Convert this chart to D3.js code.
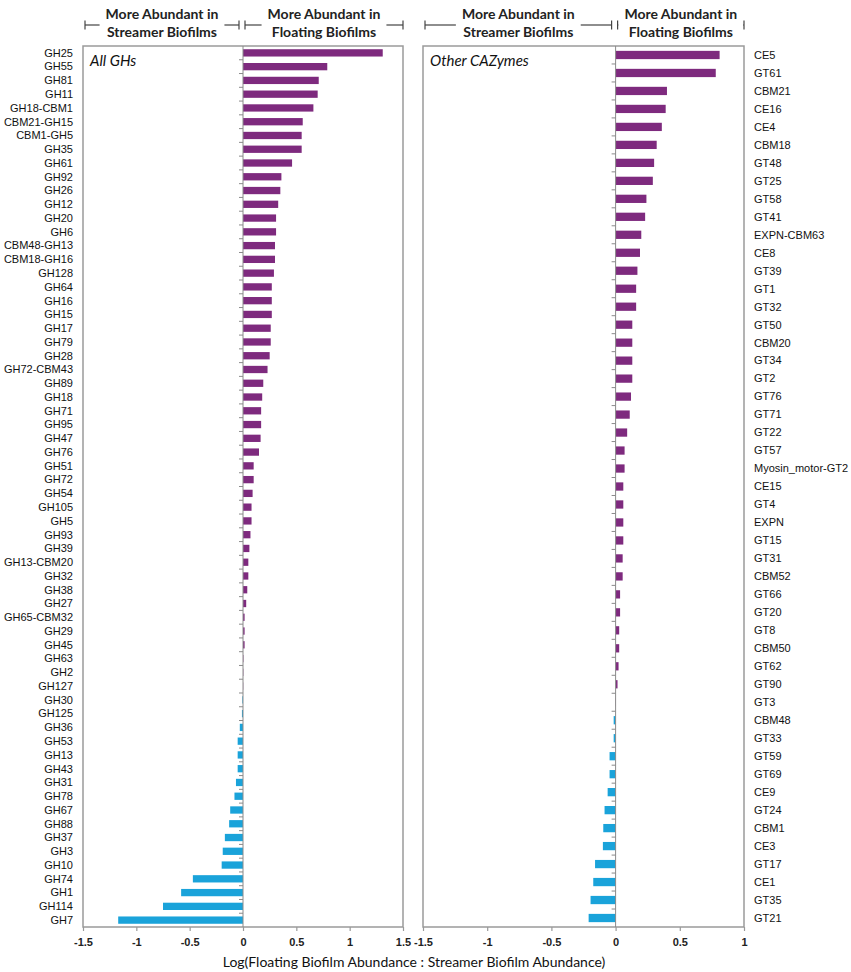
<!DOCTYPE html>
<html>
<head>
<meta charset="utf-8">
<script src="https://cdn.jsdelivr.net/npm/d3@7"></script>
<style>
  html, body { margin: 0; padding: 0; background: #fff; }
  svg { display: block; }
</style>
</head>
<body>
<svg id="chart" width="851" height="972"></svg>
<script>
// left panel: all GHs
const ghLabels = ["GH25","GH55","GH81","GH11","GH18-CBM1","CBM21-GH15","CBM1-GH5","GH35","GH61","GH92",
  "GH26","GH12","GH20","GH6","CBM48-GH13","CBM18-GH16","GH128","GH64","GH16","GH15",
  "GH17","GH79","GH28","GH72-CBM43","GH89","GH18","GH71","GH95","GH47","GH76",
  "GH51","GH72","GH54","GH105","GH5","GH93","GH39","GH13-CBM20","GH32","GH38",
  "GH27","GH65-CBM32","GH29","GH45","GH63","GH2","GH127","GH30","GH125","GH36",
  "GH53","GH13","GH43","GH31","GH78","GH67","GH88","GH37","GH3","GH10",
  "GH74","GH1","GH114","GH7"];
const ghValues = [1.31,0.79,0.71,0.70,0.66,0.56,0.55,0.55,0.46,0.36,
  0.35,0.33,0.31,0.31,0.30,0.30,0.29,0.27,0.27,0.27,
  0.26,0.26,0.25,0.23,0.19,0.18,0.17,0.17,0.165,0.15,
  0.10,0.10,0.09,0.08,0.08,0.07,0.06,0.05,0.05,0.04,
  0.03,0.015,0.015,0.015,0.004,0.003,0.002,-0.006,-0.01,-0.03,
  -0.05,-0.05,-0.05,-0.066,-0.08,-0.12,-0.13,-0.17,-0.19,-0.20,
  -0.47,-0.58,-0.75,-1.17];

// right panel: other CAZymes
const otherLabels = ["CE5","GT61","CBM21","CE16","CE4","CBM18","GT48","GT25","GT58","GT41",
  "EXPN-CBM63","CE8","GT39","GT1","GT32","GT50","CBM20","GT34","GT2","GT76",
  "GT71","GT22","GT57","Myosin_motor-GT2","CE15","GT4","EXPN","GT15","GT31","CBM52",
  "GT66","GT20","GT8","CBM50","GT62","GT90","GT3","CBM48","GT33","GT59",
  "GT69","CE9","GT24","CBM1","CE3","GT17","CE1","GT35","GT21"];
const otherValues = [0.81,0.78,0.40,0.39,0.36,0.32,0.30,0.29,0.24,0.23,
  0.20,0.19,0.17,0.16,0.16,0.13,0.13,0.13,0.13,0.12,
  0.11,0.09,0.07,0.07,0.06,0.06,0.06,0.06,0.055,0.055,
  0.035,0.035,0.028,0.028,0.023,0.015,0.002,-0.015,-0.015,-0.047,
  -0.047,-0.062,-0.086,-0.096,-0.099,-0.16,-0.174,-0.195,-0.21];

const ghTicks = [-1.5, -1, -0.5, 0, 0.5, 1, 1.5];
const otherTicks = [-1.5, -1, -0.5, 0, 0.5, 1];

const headerTop = "More Abundant in";
const headerStreamer = "Streamer Biofilms";
const headerFloating = "Floating Biofilms";
const axisTitle = "Log(Floating Biofilm Abundance : Streamer Biofilm Abundance)";

const PURPLE = "#7e2a7e";
const BLUE = "#1aa3da";
const GREY = "#9a9a9a";

const svg = d3.select("#chart");
const yTop = 46, yBottom = 927;

const panels = [
  { labels: ghLabels, values: ghValues, ticks: ghTicks, domain: [-1.5, 1.5],
    x0: 83, x1: 403, pad: 0.47, title: "All GHs", side: "left" },
  { labels: otherLabels, values: otherValues, ticks: otherTicks, domain: [-1.5, 1],
    x0: 423, x1: 744, pad: 0.54, title: "Other CAZymes", side: "right" }
];

panels.forEach(p => {
  const data = p.labels.map((l, i) => ({ label: l, value: p.values[i] }));

  const x = d3.scaleLinear().domain(p.domain).range([p.x0, p.x1]);
  const y = d3.scaleBand()
    .domain(p.labels)
    .range([yTop, yBottom])
    .paddingInner(p.pad)
    .paddingOuter(p.pad / 2);

  const g = svg.append("g");

  // frame
  g.append("rect")
    .attr("x", p.x0).attr("y", yTop)
    .attr("width", p.x1 - p.x0).attr("height", yBottom - yTop)
    .attr("fill", "none").attr("stroke", GREY).attr("stroke-width", 1.5);

  // bars
  g.append("g").selectAll("rect")
    .data(data)
    .join("rect")
    .attr("x", d => x(Math.min(0, d.value)))
    .attr("y", d => y(d.label))
    .attr("width", d => Math.abs(x(d.value) - x(0)))
    .attr("height", y.bandwidth())
    .attr("fill", d => d.value >= 0 ? PURPLE : BLUE);

  // zero line + little category ticks between rows
  g.append("line")
    .attr("x1", x(0)).attr("x2", x(0))
    .attr("y1", yTop).attr("y2", yBottom)
    .attr("stroke", "#8a8a8a").attr("stroke-width", 1);

  g.append("g").selectAll("line")
    .data(p.labels.slice(0, -1))
    .join("line")
    .attr("x1", x(0) - 4).attr("x2", x(0))
    .attr("y1", d => y(d) + y.step() - (y.step() - y.bandwidth()) / 2)
    .attr("y2", d => y(d) + y.step() - (y.step() - y.bandwidth()) / 2)
    .attr("stroke", "#8a8a8a").attr("stroke-width", 1);

  // category labels
  g.append("g").selectAll("text")
    .data(data)
    .join("text")
    .attr("x", p.side === "left" ? 73 : 754)
    .attr("y", d => y(d.label) + y.bandwidth() / 2)
    .attr("dy", "0.35em")
    .attr("text-anchor", p.side === "left" ? "end" : "start")
    .style("font-family", "Liberation Sans, Arial, sans-serif")
    .style("font-size", "11px")
    .attr("fill", "#111")
    .text(d => d.label);

  // bottom axis (plain hyphen minus like the original)
  const ax = g.append("g")
    .attr("transform", `translate(0,${yBottom})`)
    .call(d3.axisBottom(x).tickValues(p.ticks).tickSize(4).tickPadding(7).tickFormat(d => String(d)));
  ax.select(".domain").remove();
  ax.selectAll("line").attr("stroke", GREY).attr("stroke-width", 1.2);
  ax.selectAll("text")
    .style("font-family", "Liberation Sans, Arial, sans-serif")
    .style("font-size", "11px")
    .style("font-weight", "bold")
    .attr("fill", "#222");

  // panel title
  g.append("text")
    .attr("x", p.x0 + 7).attr("y", 66)
    .style("font-family", "Lato, sans-serif")
    .style("font-style", "italic")
    .style("font-size", "15px")
    .attr("fill", "#111")
    .text(p.title);

  // header brackets over each half
  const halves = [
    { a: p.x0 + 2, b: x(0) - 4, second: headerStreamer },
    { a: x(0) + 2, b: p.x1, second: headerFloating }
  ];
  halves.forEach(h => {
    const c = (h.a + h.b) / 2;
    const hg = svg.append("g");
    const t1 = hg.append("text").attr("x", c).attr("y", 19)
      .attr("text-anchor", "middle")
      .style("font-family", "Lato, sans-serif").style("font-weight", "bold").style("font-size", "14px")
      .attr("fill", "#222").text(headerTop);
    const t2 = hg.append("text").attr("x", c).attr("y", 37)
      .attr("text-anchor", "middle")
      .style("font-family", "Lato, sans-serif").style("font-weight", "bold").style("font-size", "14px")
      .attr("fill", "#222").text(h.second);
    const w = Math.max(t1.node().getComputedTextLength(), t2.node().getComputedTextLength());
    const ly = 25;
    const segs = [[h.a, c - w / 2 - 6], [c + w / 2 + 6, h.b]];
    segs.forEach(s => {
      if (s[1] > s[0]) {
        hg.append("line").attr("x1", s[0]).attr("x2", s[1]).attr("y1", ly).attr("y2", ly)
          .attr("stroke", "#444").attr("stroke-width", 1.2);
      }
    });
    [h.a, h.b].forEach(cx => {
      hg.append("line").attr("x1", cx).attr("x2", cx).attr("y1", ly - 4.5).attr("y2", ly + 4.5)
        .attr("stroke", "#444").attr("stroke-width", 1.2);
    });
  });
});

// shared x-axis title
svg.append("text")
  .attr("x", 414).attr("y", 967)
  .attr("text-anchor", "middle")
  .style("font-family", "Lato, sans-serif")
  .style("font-size", "14px")
  .attr("fill", "#111")
  .text(axisTitle);
</script>
</body>
</html>
